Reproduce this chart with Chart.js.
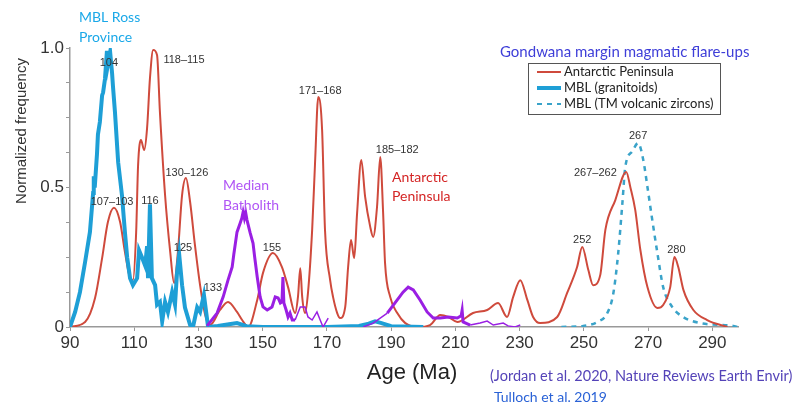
<!DOCTYPE html>
<html>
<head>
<meta charset="utf-8">
<script src="https://cdn.jsdelivr.net/npm/chart.js@4/dist/chart.umd.min.js"></script>
<style>
html,body{margin:0;padding:0;background:#fff;}
#wrap{width:804px;height:409px;position:relative;}
</style>
</head>
<body>
<div id="wrap"><canvas id="c" width="804" height="409"></canvas></div>
<script>
// tick values
const ageTicks=[90,110,130,150,170,190,210,230,250,270,290];
const freqTicks=[0,0.125,0.25,0.375,0.5,0.625,0.75,0.875,1];

// Antarctic Peninsula (red)
const apAge=[90,94.7,97.8,100.0,101.8,103.7,105.6,107.1,108.7,109.6,110.6,111.2,112.1,113.1,114.0,114.9,115.9,117.1,118.0,119.6,121.2,122.4,123.6,124.9,126.1,127.4,128.9,130.5,132.1,133.6,136.7,139.2,142.0,143.6,145.5,148.3,150.1,153.2,156.0,157.9,160.1,161.0,161.7,162.3,163.2,164.1,165.4,166.3,167.3,168.5,169.4,171.0,171.9,173.2,174.1,175.7,176.6,177.5,178.5,179.4,180.7,181.9,183.5,184.4,185.6,186.6,187.5,188.1,189.7,191.9,194.4,198.1,202.1,205.3,207.8,210.6,215.5,219.9,223.3,226.1,228.0,230.2,232.4,234.2,236.4,241.7,244.8,247.9,249.5,251.4,252.9,255.1,256.7,259.8,263.2,264.5,266.0,267.6,269.8,272.9,274.7,276.9,278.2,279.4,281.0,284.1,288.4,294.7];
const apFreq=[0,0.018,0.104,0.247,0.376,0.427,0.376,0.269,0.176,0.168,0.34,0.58,0.67,0.634,0.713,0.892,0.993,0.975,0.77,0.473,0.269,0.158,0.269,0.473,0.534,0.448,0.294,0.15,0.043,0.007,0.061,0.09,0.054,0.025,0,0.097,0.194,0.265,0.215,0.143,0.05,0.11,0.211,0.108,0.05,0.122,0.348,0.588,0.824,0.706,0.348,0.168,0.108,0.05,0.032,0.072,0.215,0.312,0.247,0.409,0.599,0.466,0.358,0.323,0.43,0.609,0.409,0.229,0.108,0.05,0.014,0,0.007,0.043,0.036,0.018,0.05,0.061,0.086,0.036,0.108,0.168,0.097,0.036,0.014,0.036,0.122,0.215,0.287,0.204,0.15,0.186,0.348,0.455,0.556,0.5,0.42,0.276,0.143,0.068,0.079,0.143,0.251,0.215,0.133,0.061,0.025,0];

// MBL granitoids (thick blue)
const granAge=[90,91.6,93.1,94.7,96.2,97.2,97.4,97.7,98.4,98.7,99.3,100.0,100.3,100.9,101.5,101.8,102.5,103.1,103.4,104.0,105.0,106.2,107.1,107.8,108.7,109.6,110.9,111.5,112.4,113.4,114.0,114.3,114.9,115.5,116.5,117.1,118.0,118.7,119.6,120.5,121.8,122.7,123.3,124.0,124.9,125.8,127.4,128.3,129.6,130.5,131.7,133.0,136,139.5,142,145,150,170,180,183,185,187,190,200];
const granFreq=[0,0.054,0.125,0.233,0.34,0.48,0.54,0.5,0.62,0.69,0.735,0.83,0.84,0.89,0.99,0.94,0.985,0.91,0.86,0.77,0.59,0.47,0.34,0.25,0.175,0.15,0.175,0.275,0.25,0.22,0.29,0.175,0.44,0.175,0.15,0.08,0.09,0.02,0.09,0.054,0.125,0.08,0.19,0.26,0.15,0.07,0.007,0,0.07,0.054,0.115,0,0.004,0.01,0.014,0.003,0,0,0.004,0.012,0.02,0.014,0.003,0];

// MBL TM volcanic zircons (dashed)
const tmAge=[243,249.8,254.2,257.3,259.2,260.7,262.0,262.9,265.1,266.9,268.5,269.8,271.3,272.9,274.7,277.5,280.9,286.3,296.5,298];
const tmFreq=[0,0.004,0.018,0.05,0.122,0.265,0.444,0.573,0.63,0.659,0.599,0.502,0.384,0.265,0.143,0.072,0.036,0.014,0.004,0];

// Median Batholith (purple)
const mbAge=[132.7,135.8,137.7,139.2,140.5,141.0,142.0,143.0,143.5,143.9,144.3,144.7,145.1,146.1,147.0,147.5,148.3,149.2,150.1,151.4,152.9,153.9,154.8,155.5,156.0,156.3,156.6,157.3,157.9,158.5,159.2,160.1,161.7,163.2,164.1,165.4,166.9,167.9,168.8,170.4,175,181.3,184.4,188.8,191.9,193.7,195.3,196.9,199.0,201.2,203.1,205.3,207.8,210.6,211.8,212.1,212.4,214.6,217.7,219.9,221.8,224.9,226.4,228.6,230.2];
const mbFreq=[0.004,0.05,0.108,0.168,0.215,0.26,0.34,0.373,0.39,0.412,0.39,0.41,0.384,0.337,0.3,0.251,0.179,0.108,0.072,0.061,0.072,0.108,0.104,0.086,0.09,0.179,0.086,0.061,0.036,0.05,0.025,0.025,0.072,0.072,0.036,0.025,0.054,0.025,0,0.032,null,0,0.014,0.05,0.097,0.125,0.143,0.133,0.097,0.054,0.032,0.032,0.036,0.032,0.04,0.06,0.018,0.007,0.014,0.021,0.007,0.014,0.004,0,0.007];

// peak labels (text, age, frequency)
const peakText=['104','118–115','107–103','116','130–126','125','133','155','171–168','185–182','252','267–262','267','280'];
const peakAge=[102.1,125.5,103.1,114.9,126.4,125.2,134.5,152.9,167.9,191.9,249.5,253.6,266.9,278.8];
const peakFreq=[0.946,0.957,0.448,0.452,0.552,0.283,0.14,0.283,0.846,0.634,0.312,0.552,0.685,0.276];

const pts=(xs,ys)=>xs.map((x,i)=>({x:x,y:ys[i]}));
const RED='#cf4a3c',BLUE='#1e9fd6',TEAL='#3aa3c9',PURPLE='#9a1fe3';
const FONT='"Liberation Sans", Arial, sans-serif';
const SANS='Lato, "Open Sans", sans-serif';

const annotations={
 id:'annotations',
 afterDraw(chart){
  const ctx=chart.ctx,xs=chart.scales.x,ys=chart.scales.y;
  ctx.save();
  // peak labels
  ctx.font='11px '+FONT;ctx.fillStyle='#333';ctx.textAlign='center';ctx.textBaseline='middle';
  peakText.forEach((t,i)=>ctx.fillText(t,xs.getPixelForValue(peakAge[i]),ys.getPixelForValue(peakFreq[i])));
  // axis titles
  ctx.font='22px '+FONT;ctx.fillStyle='#222';
  ctx.fillText('Age (Ma)',412,373);
  ctx.save();ctx.translate(22,131);ctx.rotate(-Math.PI/2);
  ctx.font='15px '+FONT;ctx.fillStyle='#333';ctx.fillText('Normalized frequency',0,0);ctx.restore();
  // region names
  ctx.textAlign='left';ctx.font='14px '+SANS;
  ctx.fillStyle='#1aa8e8';ctx.fillText('MBL Ross',79,17);ctx.fillText('Province',79,37);
  ctx.fillStyle='#b055f5';ctx.fillText('Median',223,185);ctx.fillText('Batholith',223,205);
  ctx.fillStyle='#d42525';ctx.fillText('Antarctic',392,177);ctx.fillText('Peninsula',392,196);
  // title and sources
  ctx.font='15px '+SANS;ctx.fillStyle='#3e3ed8';ctx.fillText('Gondwana margin magmatic flare-ups',500,52);
  ctx.font='14.5px '+SANS;ctx.fillStyle='#5443b8';ctx.fillText('(Jordan et al. 2020, Nature Reviews Earth Envir)',490,376);
  ctx.font='14px '+SANS;ctx.fillStyle='#2a62d6';ctx.fillText('Tulloch et al. 2019',494,397);
  // legend box
  ctx.strokeStyle='#555';ctx.lineWidth=1;ctx.strokeRect(528.5,63.5,192,51);
  const ds=chart.data.datasets.filter(d=>d.inLegend);
  ds.forEach((d,i)=>{
   const y=72+i*16;
   ctx.beginPath();ctx.strokeStyle=d.borderColor;ctx.lineWidth=d.inLegend;
   ctx.setLineDash(d.borderDash||[]);ctx.moveTo(537,y);ctx.lineTo(561,y);ctx.stroke();ctx.setLineDash([]);
   ctx.fillStyle='#222';ctx.font='13px '+SANS;ctx.fillText(d.label,564,y);
  });
  ctx.restore();
 }
};

new Chart(document.getElementById('c'),{
 type:'line',
 data:{datasets:[
  {label:'Antarctic Peninsula',data:pts(apAge,apFreq),borderColor:RED,borderWidth:2,cubicInterpolationMode:'monotone',order:3,inLegend:2},
  {label:'MBL (granitoids)',data:pts(granAge,granFreq),borderColor:BLUE,borderWidth:4,tension:0,order:2,inLegend:4},
  {label:'MBL (TM volcanic zircons)',data:pts(tmAge,tmFreq),borderColor:TEAL,borderWidth:2.5,borderDash:[5,5],cubicInterpolationMode:'monotone',order:4,inLegend:2},
  {label:'Median Batholith',data:pts(mbAge,mbFreq),borderColor:PURPLE,borderWidth:3,tension:0,spanGaps:false,order:1,
   segment:{borderWidth:c=>{const x=c.p0.parsed.x;return (x<159.5||(x>186&&x<212.5))?3:1.5;}}}
 ]},
 options:{
  responsive:false,animation:false,
  layout:{padding:{top:48,right:66,bottom:0,left:0}},
  elements:{point:{radius:0}},
  plugins:{legend:{display:false},tooltip:{enabled:false}},
  scales:{
   x:{type:'linear',min:90,max:298,
    afterBuildTicks:s=>{s.ticks=ageTicks.map(v=>({value:v}));},
    afterFit:s=>{s.height=82;},
    border:{display:true,color:'#999',width:1.5},
    grid:{drawOnChartArea:false,drawTicks:true,tickLength:4,color:'#999'},
    ticks:{autoSkip:false,maxRotation:0,padding:2,color:'#333',font:{family:FONT,size:17}}},
   y:{min:0,max:1,
    afterBuildTicks:s=>{s.ticks=freqTicks.map(v=>({value:v}));},
    afterFit:s=>{s.width=70;},
    border:{display:true,color:'#999',width:1.5},
    grid:{drawOnChartArea:false,drawTicks:true,tickLength:4,color:'#999'},
    ticks:{padding:2,color:'#333',font:{family:FONT,size:17},
     callback:v=>v===1?'1.0':v===0.5?'0.5':v===0?'0':''}}
  }
 },
 plugins:[annotations]
});
</script>
</body>
</html>
